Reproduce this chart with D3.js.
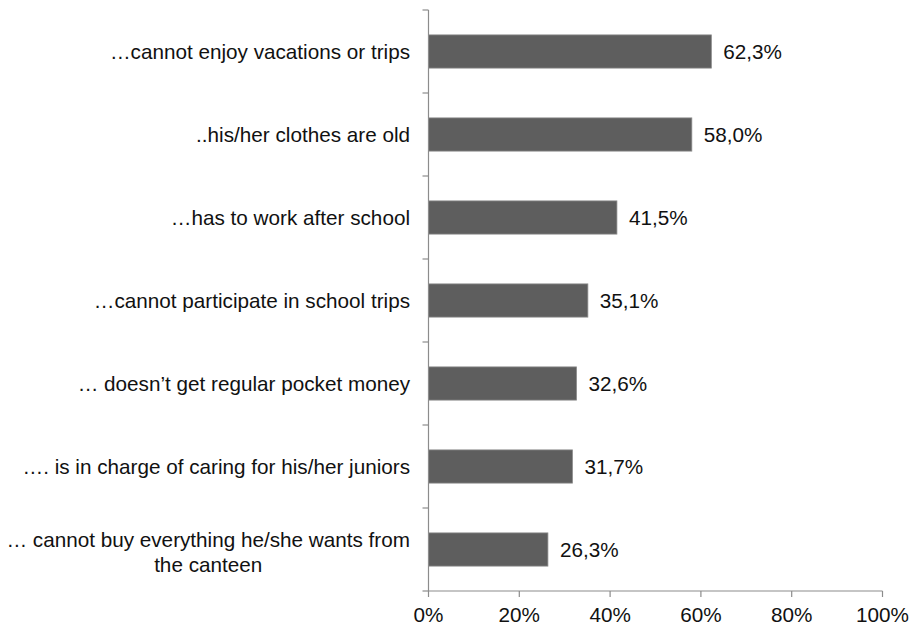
<!DOCTYPE html>
<html><head><meta charset="utf-8">
<script src="https://cdn.jsdelivr.net/npm/d3@7"></script>
<style>body{margin:0;background:#fff}svg{display:block}text{font-family:"Liberation Sans",Arial,sans-serif;fill:#111}</style>
</head><body><svg id="c" width="916" height="627"></svg>
<script>
const categories = [
  ["…cannot enjoy vacations or trips"],
  ["..his/her clothes are old"],
  ["…has to work after school"],
  ["…cannot participate in school trips"],
  ["… doesn’t get regular pocket money"],
  ["…. is in charge of caring for his/her juniors"],
  ["… cannot buy everything he/she wants from", "the canteen"]
];
const values = [62.3, 58.0, 41.5, 35.1, 32.6, 31.7, 26.3];
const valueLabels = ["62,3%", "58,0%", "41,5%", "35,1%", "32,6%", "31,7%", "26,3%"];
const xTicks = [0, 20, 40, 60, 80, 100];
const xTickLabels = ["0%", "20%", "40%", "60%", "80%", "100%"];

const svg = d3.select("#c");
const x = d3.scaleLinear().domain([0, 100]).range([428.5, 882.5]);
const y = d3.scaleBand().domain(d3.range(categories.length)).range([10, 591]).paddingInner(0.6).paddingOuter(0.3);
const axisColor = "#8c8c8c";
const fs = 20.7;

// bars
svg.selectAll("rect.bar").data(values).join("rect")
  .attr("x", x(0)).attr("y", (d, i) => y(i))
  .attr("width", d => x(d) - x(0)).attr("height", y.bandwidth())
  .attr("fill", "#5e5e5e").attr("stroke", "#8a8a8a").attr("stroke-width", 0.8);

// value labels
svg.selectAll("text.val").data(values).join("text")
  .attr("x", d => x(d) + 12).attr("y", (d, i) => y(i) + y.bandwidth() / 2)
  .attr("dy", "0.35em").attr("font-size", fs)
  .text((d, i) => valueLabels[i]);

// y axis line and ticks
const yTop = 10, yBot = 591;
svg.append("line").attr("x1", x(0)).attr("x2", x(0)).attr("y1", yTop).attr("y2", yBot)
  .attr("stroke", axisColor).attr("stroke-width", 1.2);
const yTickPos = d3.range(categories.length + 1).map(i => yTop + i * (yBot - yTop) / categories.length);
svg.selectAll("line.yt").data(yTickPos).join("line")
  .attr("x1", x(0) - 6).attr("x2", x(0)).attr("y1", d => d).attr("y2", d => d)
  .attr("stroke", axisColor).attr("stroke-width", 1.2);

// x axis
svg.append("line").attr("x1", x(0)).attr("x2", x(100)).attr("y1", yBot).attr("y2", yBot)
  .attr("stroke", axisColor).attr("stroke-width", 1.2);
svg.selectAll("line.xt").data(xTicks).join("line")
  .attr("x1", d => x(d)).attr("x2", d => x(d)).attr("y1", yBot).attr("y2", yBot + 6)
  .attr("stroke", axisColor).attr("stroke-width", 1.2);
svg.selectAll("text.xl").data(xTicks).join("text")
  .attr("x", d => x(d)).attr("y", 615).attr("dy", "0.35em")
  .attr("text-anchor", "middle").attr("font-size", fs)
  .text((d, i) => xTickLabels[i]);

// category labels
const labelRight = 410;
categories.forEach((lines, i) => {
  const cy = y(i) + y.bandwidth() / 2 + (lines.length > 1 ? 3 : 0);
  const g = svg.append("g");
  const lh = 25;
  const texts = lines.map((l, j) => g.append("text")
    .attr("y", cy + (j - (lines.length - 1) / 2) * lh).attr("dy", "0.35em")
    .attr("font-size", fs).text(l));
  if (lines.length === 1) {
    texts[0].attr("x", labelRight).attr("text-anchor", "end");
  } else {
    const w = d3.max(texts, t => t.node().getComputedTextLength());
    texts.forEach(t => t.attr("x", labelRight - w / 2).attr("text-anchor", "middle"));
  }
});
</script></body></html>
